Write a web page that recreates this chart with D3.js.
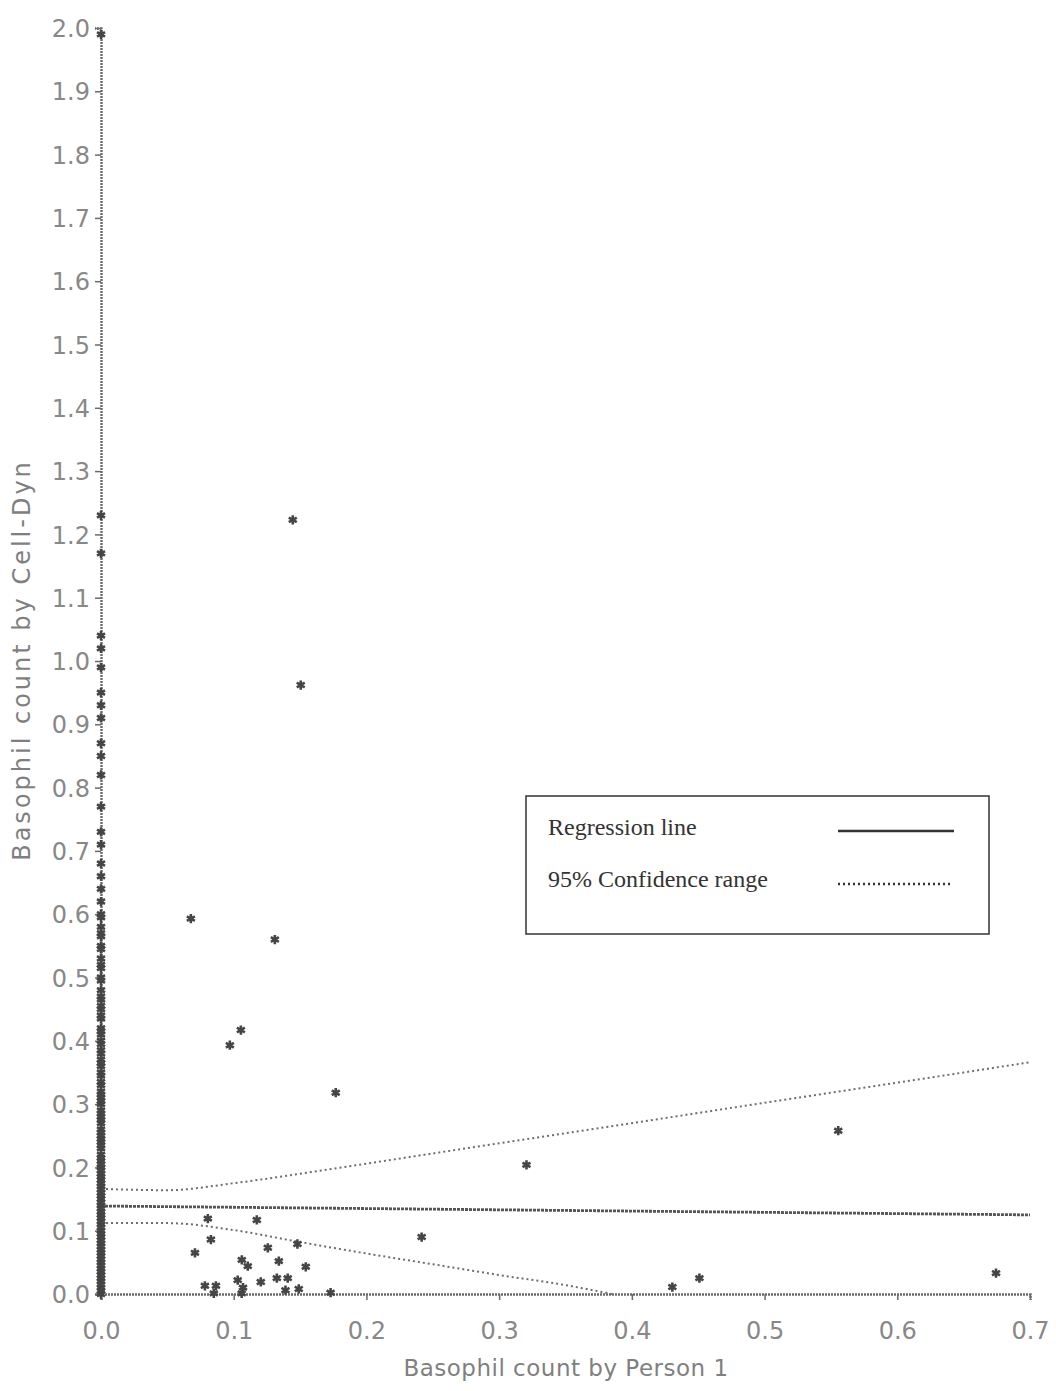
<!DOCTYPE html>
<html lang="en">
<head>
    <meta charset="UTF-8">
    <title>Basophil count: Cell-Dyn vs Person 1</title>
    <script src="https://d3js.org/d3.v7.min.js"></script>
    <style>
        body { margin: 0; background: #fff; }
    </style>
</head>
<body>
    <svg width="1056" height="1391"></svg>

    <script>
        // Scatter points: manual count (Person 1) vs analyser count (Cell-Dyn)
        const person1 = [
            0.1445, 0.1505, 0.0677, 0.131, 0.1054, 0.0971, 0.1769, 0.3206, 0.5555, 0.2416,
            0.4305, 0.4509, 0.6744, 0.0805, 0.1174, 0.0828, 0.0708, 0.1257, 0.148, 0.1061,
            0.1106, 0.134, 0.1543, 0.0783, 0.0866, 0.085, 0.103, 0.107, 0.1204, 0.1325,
            0.1407, 0.139, 0.149, 0.173, 0.106
        ];
        const cellDyn = [
            1.223, 0.962, 0.593, 0.560, 0.417, 0.393, 0.318, 0.204, 0.258, 0.090,
            0.011, 0.025, 0.033, 0.119, 0.117, 0.086, 0.065, 0.073, 0.079, 0.054,
            0.044, 0.052, 0.043, 0.013, 0.013, 0.001, 0.022, 0.010, 0.019, 0.025,
            0.025, 0.006, 0.008, 0.002, 0.001
        ];
        // Samples where Person 1 counted 0.0 (stacked on the y axis)
        const zeroCellDyn = [
            1.99, 1.23, 1.17, 1.04, 1.02, 0.99, 0.95, 0.93, 0.91, 0.87, 0.85, 0.82, 0.77,
            0.73, 0.71, 0.68, 0.66, 0.64, 0.62, 0.60, 0.58, 0.57, 0.55, 0.53, 0.52, 0.50,
            0.48, 0.47, 0.45, 0.44, 0.42, 0.41, 0.40, 0.38, 0.37, 0.36, 0.35, 0.33, 0.32,
            0.31, 0.30, 0.29, 0.28, 0.27, 0.26, 0.25, 0.24, 0.23, 0.22, 0.21, 0.20, 0.19,
            0.18, 0.17, 0.16, 0.15, 0.14, 0.13, 0.12, 0.11, 0.10, 0.09, 0.08, 0.07, 0.06,
            0.05, 0.04, 0.03, 0.02, 0.01, 0.0,
            0.595, 0.565, 0.545, 0.515, 0.495, 0.465, 0.455, 0.435, 0.415, 0.395, 0.385,
            0.365, 0.345, 0.335, 0.315, 0.305, 0.285, 0.275, 0.255, 0.245, 0.235, 0.215,
            0.205, 0.195, 0.185, 0.175, 0.165, 0.155, 0.145, 0.135, 0.125, 0.115, 0.105,
            0.095, 0.085, 0.075, 0.065, 0.055, 0.045, 0.035, 0.025, 0.015, 0.005
        ];

        // Regression line and 95% confidence band
        const regX = [0, 0.7];
        const regY = [0.139, 0.125];
        const bandX = [0, 0.05, 0.1, 0.15, 0.2, 0.25, 0.3, 0.35, 0.4, 0.45, 0.5, 0.55, 0.6, 0.65, 0.7];
        const upperY = [0.166, 0.164, 0.175, 0.190, 0.206, 0.222, 0.238, 0.254, 0.270, 0.286, 0.302, 0.318, 0.334, 0.350, 0.366];
        const lowerX = [0, 0.05, 0.1, 0.15, 0.2, 0.25, 0.3, 0.35, 0.385];
        const lowerY = [0.112, 0.112, 0.101, 0.082, 0.064, 0.047, 0.030, 0.014, 0.0];

        const xTicks = [0, 0.1, 0.2, 0.3, 0.4, 0.5, 0.6, 0.7];
        const yTicks = d3.range(0, 21).map(i => i / 10);

        const svg = d3.select("svg");

        const x = d3.scaleLinear().domain([0, 0.7]).range([101, 1030]);
        const y = d3.scaleLinear().domain([0, 2.0]).range([1294, 28]);

        const axisColor = "#6a6a6a";
        const labelFont = "'DejaVu Sans', sans-serif";

        // Axes
        const xAxis = svg.append("g")
            .attr("transform", `translate(0,${y(0)})`)
            .call(d3.axisBottom(x).tickValues(xTicks).tickFormat(d3.format(".1f")).tickSize(6).tickPadding(22));

        const yAxis = svg.append("g")
            .attr("transform", `translate(${x(0)},0)`)
            .call(d3.axisLeft(y).tickValues(yTicks).tickFormat(d3.format(".1f")).tickSize(6).tickPadding(5));

        [xAxis, yAxis].forEach(g => {
            g.select(".domain").attr("stroke", axisColor).attr("stroke-width", 2.4).attr("stroke-dasharray", "2,1");
            g.selectAll(".tick line").attr("stroke", axisColor).attr("stroke-width", 1.5);
            g.selectAll(".tick text")
                .attr("fill", "#888")
                .style("font-family", labelFont)
                .style("font-size", "24px");
        });
        yAxis.selectAll(".tick text").attr("dy", "0.36em");

        // Axis titles
        svg.append("text")
            .attr("x", 566)
            .attr("y", 1376)
            .attr("text-anchor", "middle")
            .attr("fill", "#7f7f7f")
            .style("font-family", labelFont)
            .style("font-size", "23px")
            .style("letter-spacing", "0.5px")
            .text("Basophil count by Person 1");

        svg.append("text")
            .attr("transform", "translate(30,660) rotate(-90)")
            .attr("text-anchor", "middle")
            .attr("fill", "#7f7f7f")
            .style("font-family", labelFont)
            .style("font-size", "24px")
            .style("letter-spacing", "3px")
            .text("Basophil count by Cell-Dyn");

        // Confidence band and regression line
        const line = d3.line().curve(d3.curveMonotoneX).x(d => x(d[0])).y(d => y(d[1]));

        svg.append("path")
            .datum(bandX.map((v, i) => [v, upperY[i]]))
            .attr("fill", "none")
            .attr("stroke", "#6e6e6e")
            .attr("stroke-width", 2)
            .attr("stroke-dasharray", "2,3")
            .attr("d", line);

        svg.append("path")
            .datum(lowerX.map((v, i) => [v, lowerY[i]]))
            .attr("fill", "none")
            .attr("stroke", "#6e6e6e")
            .attr("stroke-width", 2)
            .attr("stroke-dasharray", "2,3")
            .attr("d", line);

        svg.append("path")
            .datum(regX.map((v, i) => [v, regY[i]]))
            .attr("fill", "none")
            .attr("stroke", "#555")
            .attr("stroke-width", 2.8)
            .attr("stroke-dasharray", "3,1")
            .attr("d", line);

        // Points
        const points = person1.map((v, i) => [v, cellDyn[i]])
            .concat(zeroCellDyn.map(v => [0, v]));

        const star = d3.symbol().type(d3.symbolAsterisk).size(60);

        svg.append("g")
            .selectAll("path")
            .data(points)
            .join("path")
            .attr("transform", d => `translate(${x(d[0])},${y(d[1])})`)
            .attr("d", star)
            .attr("fill", "none")
            .attr("stroke", "#454545")
            .attr("stroke-width", 2.6);

        // Legend
        const legend = svg.append("g");
        legend.append("rect")
            .attr("x", 526).attr("y", 796)
            .attr("width", 463).attr("height", 138)
            .attr("fill", "#fff")
            .attr("stroke", "#333")
            .attr("stroke-width", 1.5);

        const legendItems = [
            { label: "Regression line", dash: null, ty: 835, ly: 831, x2: 954 },
            { label: "95% Confidence range", dash: "2,3", ty: 887, ly: 884, x2: 950 }
        ];
        legendItems.forEach(d => {
            legend.append("text")
                .attr("x", 548).attr("y", d.ty)
                .attr("fill", "#333")
                .style("font-family", "'Liberation Serif', 'Times New Roman', serif")
                .style("font-size", "24px")
                .text(d.label);
            legend.append("line")
                .attr("x1", 838).attr("x2", d.x2)
                .attr("y1", d.ly).attr("y2", d.ly)
                .attr("stroke", "#333")
                .attr("stroke-width", 2.5)
                .attr("stroke-dasharray", d.dash);
        });
    </script>
</body>
</html>
